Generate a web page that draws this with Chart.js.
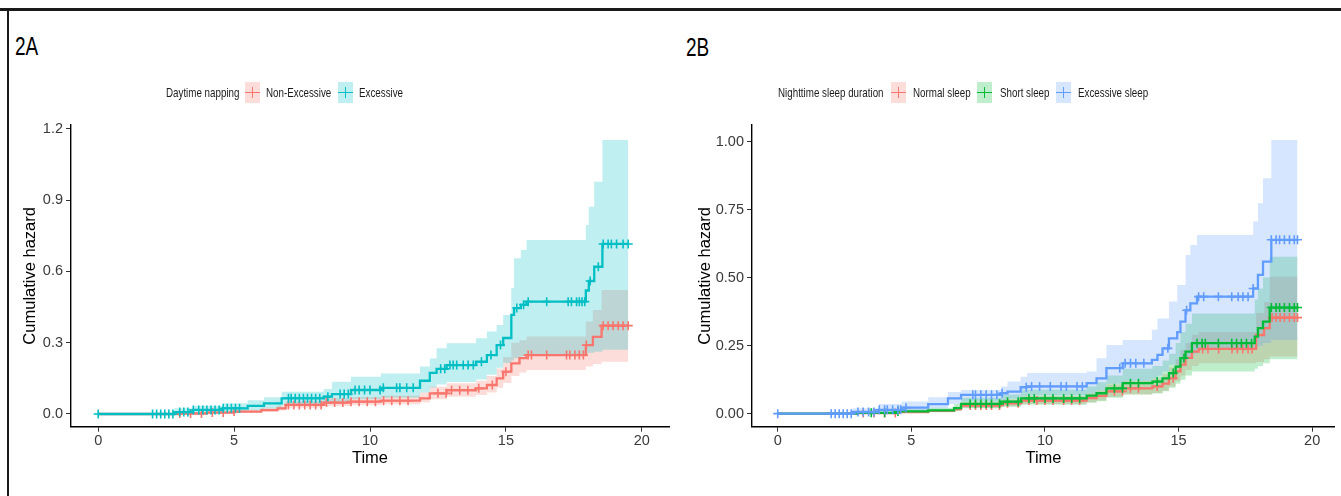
<!DOCTYPE html>
<html><head><meta charset="utf-8">
<script src="https://cdn.jsdelivr.net/npm/chart.js@4/dist/chart.umd.min.js"></script>
<style>
html,body{margin:0;padding:0;background:#fff;}
#wrap{position:relative;width:1341px;height:496px;overflow:hidden;background:#fff;}
.frameTop{position:absolute;left:0;top:8px;width:1341px;height:3px;background:#1a1a1a;}
.frameLeft{position:absolute;left:7px;top:8px;width:2px;height:488px;background:#1a1a1a;}
.ptitle{position:absolute;font-family:"Liberation Sans",Arial,sans-serif;font-size:25px;color:#000;line-height:25px;transform:scaleX(0.76);transform-origin:0 50%;}
.leg{position:absolute;font-family:"Liberation Sans",Arial,sans-serif;font-size:13.5px;color:#1a1a1a;line-height:14px;white-space:nowrap;transform:scaleX(0.725);transform-origin:0 50%;}
.key{position:absolute;width:15px;height:21px;top:82px;}
.key .h{position:absolute;left:0;top:9.5px;width:15px;height:1.6px;}
.key .v{position:absolute;left:6.7px;top:5px;width:1.6px;height:11px;}
canvas{position:absolute;top:0;}
</style></head>
<body><div id="wrap">
<div class="frameTop"></div><div class="frameLeft"></div>
<div class="ptitle" style="left:15px;top:34px;">2A</div>
<div class="ptitle" style="left:686px;top:35px;">2B</div>
<canvas id="cA" width="680" height="496" style="left:0px;"></canvas>
<canvas id="cB" width="661" height="496" style="left:680px;"></canvas>
</div>
<script>
// ---------- Panel 2A : Daytime napping ----------
const legendTitleA = 'Daytime napping';
const groupsA = ['Non-Excessive', 'Excessive'];
const colorsA = ['#F8766D', '#00BFC4'];

const tA_non  = [0, 3.0, 4.0, 5.0, 6.0, 6.6, 6.9, 8.3, 9.3, 10.4, 11.84, 12.2, 12.82, 13.9, 14.3, 14.66, 14.9, 15.2, 15.5, 15.76, 17.94, 18.2, 18.52, 19.5];
const hA_non  = [0, 0.002, 0.006, 0.01, 0.016, 0.024, 0.038, 0.048, 0.052, 0.056, 0.066, 0.087, 0.1, 0.108, 0.122, 0.15, 0.178, 0.213, 0.235, 0.248, 0.29, 0.325, 0.372, 0.372];
const loA_non = [0, 0, 0.002, 0.005, 0.009, 0.015, 0.026, 0.034, 0.038, 0.041, 0.049, 0.062, 0.073, 0.08, 0.09, 0.11, 0.13, 0.16, 0.175, 0.185, 0.2, 0.21, 0.22, 0.22];
const hiA_non = [0, 0.006, 0.012, 0.018, 0.026, 0.036, 0.054, 0.066, 0.071, 0.077, 0.09, 0.115, 0.129, 0.14, 0.16, 0.192, 0.24, 0.3, 0.31, 0.326, 0.389, 0.438, 0.522, 0.522];
const cA_non  = [3.0, 3.4, 3.8, 4.2, 4.6, 5.0, 7.0, 7.2, 7.4, 7.6, 7.8, 8.0, 8.2, 8.4, 8.7, 9.0, 9.3, 9.6, 9.9, 10.2, 10.5, 10.8, 11.1, 11.4, 12.5, 12.8, 13.0, 13.3, 13.6, 14.0, 14.5, 15.0, 15.82, 15.94, 16.5, 17.23, 17.35, 17.54, 17.7, 17.85, 17.96, 18.58, 18.76, 18.94, 19.13, 19.31, 19.5];

const tA_exc  = [0, 2.8, 3.5, 4.6, 5.5, 6.1, 6.75, 8.3, 8.6, 9.3, 10.4, 11.84, 12.2, 12.45, 12.82, 13.9, 14.3, 14.66, 14.9, 15.2, 15.3, 15.55, 15.76, 17.94, 18.05, 18.25, 18.55, 19.5];
const hA_exc  = [0, 0.008, 0.017, 0.024, 0.034, 0.045, 0.066, 0.073, 0.084, 0.101, 0.11, 0.14, 0.173, 0.19, 0.206, 0.22, 0.248, 0.29, 0.32, 0.417, 0.446, 0.46, 0.473, 0.52, 0.56, 0.62, 0.716, 0.716];
const loA_exc = [0, 0.001, 0.006, 0.01, 0.016, 0.023, 0.037, 0.042, 0.05, 0.062, 0.068, 0.09, 0.112, 0.124, 0.135, 0.145, 0.165, 0.195, 0.215, 0.225, 0.235, 0.243, 0.25, 0.255, 0.258, 0.262, 0.27, 0.27];
const hiA_exc = [0, 0.024, 0.035, 0.045, 0.058, 0.07, 0.094, 0.105, 0.136, 0.157, 0.171, 0.2, 0.234, 0.277, 0.298, 0.319, 0.347, 0.375, 0.417, 0.53, 0.656, 0.69, 0.733, 0.796, 0.873, 0.978, 1.154, 1.154];
const cA_exc  = [0, 2.0, 2.15, 2.3, 2.45, 2.6, 2.75, 3.0, 3.15, 3.3, 3.5, 3.7, 3.85, 4.0, 4.15, 4.3, 4.45, 4.6, 4.75, 4.9, 5.05, 5.2, 7.0, 7.1, 7.25, 7.4, 7.55, 7.7, 7.85, 8.0, 8.15, 8.45, 8.9, 9.05, 9.2, 9.45, 9.6, 9.8, 10.0, 10.37, 10.49, 10.98, 11.1, 11.35, 11.59, 12.6, 12.75, 12.94, 13.06, 13.19, 13.43, 13.61, 13.8, 14.1, 14.45, 14.8, 15.4, 15.65, 15.82, 16.5, 17.29, 17.41, 17.6, 17.7, 17.8, 17.9, 18.1, 18.4, 18.58, 18.76, 18.88, 19.07, 19.31, 19.5];

const xTicksA = [0, 5, 10, 15, 20];
const yTicksA = [0, 0.3, 0.6, 0.9, 1.2];

// ---------- Panel 2B : Nighttime sleep duration ----------
const legendTitleB = 'Nighttime sleep duration';
const groupsB = ['Normal sleep', 'Short sleep', 'Excessive sleep'];
const colorsB = ['#F8766D', '#00BA38', '#619CFF'];

const tB_nor  = [0, 3.0, 4.5, 5.63, 6.6, 6.86, 8.35, 9.1, 11.56, 11.93, 12.3, 12.91, 14.02, 14.4, 14.64, 14.89, 15.07, 15.26, 15.5, 15.75, 17.9, 18.2, 18.41, 19.45];
const hB_nor  = [0, 0.002, 0.006, 0.01, 0.017, 0.03, 0.038, 0.048, 0.057, 0.065, 0.082, 0.093, 0.1, 0.11, 0.13, 0.155, 0.18, 0.205, 0.228, 0.238, 0.289, 0.314, 0.353, 0.353];
const loB_nor = [0, 0, 0.003, 0.006, 0.011, 0.021, 0.027, 0.035, 0.042, 0.048, 0.062, 0.07, 0.076, 0.084, 0.1, 0.12, 0.14, 0.16, 0.175, 0.185, 0.19, 0.2, 0.21, 0.21];
const hiB_nor = [0, 0.006, 0.011, 0.016, 0.026, 0.042, 0.052, 0.064, 0.075, 0.085, 0.107, 0.12, 0.13, 0.145, 0.17, 0.2, 0.235, 0.26, 0.29, 0.3, 0.37, 0.41, 0.503, 0.503];
const cB_nor  = [3.2, 3.6, 4.0, 4.4, 7.2, 7.4, 7.6, 7.8, 8.0, 8.3, 8.6, 9.0, 9.4, 9.7, 10.0, 10.3, 10.7, 11.0, 11.3, 12.6, 12.9, 13.2, 13.5, 14.2, 14.8, 15.9, 16.1, 16.5, 17.0, 17.2, 17.4, 17.6, 17.75, 18.5, 18.65, 18.8, 18.96, 19.15, 19.33, 19.45];

const tB_sho  = [0, 3.0, 4.5, 5.63, 6.6, 6.86, 8.35, 9.1, 11.56, 11.93, 12.3, 12.91, 14.02, 14.4, 14.64, 14.89, 15.07, 15.26, 15.5, 17.85, 17.97, 18.16, 18.41, 19.45];
const hB_sho  = [0, 0.003, 0.008, 0.012, 0.02, 0.036, 0.044, 0.056, 0.066, 0.075, 0.093, 0.112, 0.118, 0.13, 0.149, 0.173, 0.204, 0.228, 0.259, 0.283, 0.314, 0.338, 0.39, 0.39];
const loB_sho = [0, 0, 0.003, 0.005, 0.01, 0.02, 0.025, 0.033, 0.04, 0.046, 0.058, 0.07, 0.074, 0.082, 0.095, 0.11, 0.125, 0.14, 0.155, 0.165, 0.175, 0.185, 0.2, 0.2];
const hiB_sho = [0, 0.008, 0.016, 0.022, 0.035, 0.058, 0.07, 0.088, 0.1, 0.115, 0.14, 0.165, 0.175, 0.195, 0.22, 0.26, 0.3, 0.33, 0.368, 0.42, 0.46, 0.5, 0.577, 0.577];
const cB_sho  = [3.5, 4.0, 4.5, 7.2, 7.4, 7.6, 7.8, 8.0, 8.3, 8.6, 9.0, 9.4, 9.6, 10.0, 10.3, 10.7, 11.0, 11.3, 12.6, 12.9, 13.2, 13.5, 14.2, 14.8, 15.2, 15.69, 15.88, 16.0, 16.49, 16.99, 17.17, 17.35, 17.54, 17.73, 18.47, 18.65, 18.78, 18.96, 19.15, 19.33, 19.45];

const tB_exc  = [0, 2.8, 3.78, 4.64, 5.63, 6.37, 6.86, 8.35, 8.6, 9.09, 9.33, 11.56, 11.93, 12.3, 12.91, 14.0, 14.21, 14.4, 14.64, 14.95, 15.07, 15.26, 15.44, 15.69, 17.79, 17.97, 18.16, 18.47, 19.45];
const hB_exc  = [0, 0.006, 0.014, 0.022, 0.035, 0.056, 0.069, 0.075, 0.081, 0.097, 0.1, 0.112, 0.13, 0.167, 0.185, 0.198, 0.216, 0.24, 0.277, 0.3, 0.338, 0.38, 0.405, 0.43, 0.46, 0.51, 0.559, 0.639, 0.639];
const loB_exc = [0, 0.001, 0.005, 0.01, 0.02, 0.035, 0.045, 0.05, 0.055, 0.065, 0.068, 0.075, 0.085, 0.11, 0.12, 0.13, 0.14, 0.155, 0.18, 0.17, 0.19, 0.21, 0.22, 0.235, 0.24, 0.25, 0.26, 0.271, 0.271];
const hiB_exc = [0, 0.02, 0.035, 0.045, 0.06, 0.08, 0.087, 0.1, 0.118, 0.136, 0.149, 0.155, 0.204, 0.252, 0.271, 0.308, 0.35, 0.35, 0.412, 0.473, 0.473, 0.583, 0.62, 0.657, 0.706, 0.773, 0.865, 1.006, 1.006];
const cB_exc  = [0, 2.0, 2.15, 2.3, 2.45, 2.6, 2.75, 3.0, 3.2, 3.4, 3.6, 3.8, 4.0, 4.1, 4.3, 4.5, 4.6, 4.8, 7.3, 7.4, 7.6, 7.8, 8.0, 8.2, 8.4, 9.3, 9.5, 9.8, 10.2, 10.6, 10.8, 11.2, 11.4, 12.8, 13.0, 13.2, 13.4, 13.7, 14.6, 15.3, 15.75, 15.94, 16.49, 16.99, 17.23, 17.41, 17.6, 17.79, 18.47, 18.65, 18.78, 18.96, 19.15, 19.33, 19.45];

const xTicksB = [0, 5, 10, 15, 20];
const yTicksB = [0, 0.25, 0.5, 0.75, 1.0];

// ---------- helpers ----------
function stepAt(ts, vs, t) { let v = vs[0]; for (let i = 0; i < ts.length; i++) { if (ts[i] <= t + 1e-9) v = vs[i]; else break; } return v; }
function pts(ts, vs) { return ts.map((t, i) => ({x: t, y: vs[i]})); }
function rgba(hex, a) { const n = parseInt(hex.slice(1), 16); return `rgba(${(n>>16)&255},${(n>>8)&255},${n&255},${a})`; }

function buildDatasets(groups) {
  const ds = [];
  groups.forEach((g, gi) => {
    const loIdx = ds.length;
    ds.push({label: g.name + ' lower', data: pts(g.t, g.lo), stepped: 'before', borderWidth: 0, borderColor: 'rgba(0,0,0,0)', pointRadius: 0, fill: false, order: 30 - gi});
    ds.push({label: g.name + ' upper', data: pts(g.t, g.hi), stepped: 'before', borderWidth: 0, borderColor: 'rgba(0,0,0,0)', pointRadius: 0, fill: {target: loIdx}, backgroundColor: rgba(g.color, 0.25), order: 30 - gi});
  });
  groups.forEach((g, gi) => {
    ds.push({label: g.name, data: pts(g.t, g.v), stepped: 'before', borderColor: g.color, borderWidth: 2.3, pointRadius: 0, fill: false, order: 19 - 2 * gi});
    ds.push({label: g.name + ' censored', data: g.c.map(t => ({x: t, y: stepAt(g.t, g.v, t)})), showLine: false, pointStyle: 'cross', pointRadius: 4.5, pointBorderWidth: 1.6, borderColor: g.color, pointBorderColor: g.color, fill: false, order: 18 - 2 * gi});
  });
  return ds;
}

const FONT = "'Liberation Sans', Arial, sans-serif";
function makeChart(id, groups, xr, yr, xTicks, yTicks, yDec, yWidth, yTitlePad, padRight) {
  const xAxisH = 60;
  return new Chart(document.getElementById(id), {
    type: 'line',
    data: {datasets: buildDatasets(groups)},
    options: {
      responsive: false, animation: false, events: [],
      layout: {padding: {left: 0, right: padRight, top: 125, bottom: 496 - 426.7 - xAxisH}},
      plugins: {legend: {display: false}, tooltip: {enabled: false}, title: {display: false}},
      scales: {
        x: {type: 'linear', min: xr[0], max: xr[1],
          afterBuildTicks: s => { s.ticks = xTicks.map(v => ({value: v})); },
          afterFit: s => { s.height = xAxisH; },
          grid: {drawOnChartArea: false, drawTicks: true, tickLength: 5, color: '#333', lineWidth: 1},
          border: {display: true, color: '#000', width: 1.4},
          ticks: {font: {family: FONT, size: 14.5}, color: '#3a3a3a', padding: 1, maxRotation: 0, autoSkip: false, callback: v => String(v)},
          title: {display: true, text: 'Time', font: {family: FONT, size: 16.5}, color: '#000', padding: {top: 0, bottom: 18.8}}
        },
        y: {type: 'linear', min: yr[0], max: yr[1],
          afterBuildTicks: s => { s.ticks = yTicks.map(v => ({value: v})); },
          afterFit: s => { s.width = yWidth; },
          grid: {drawOnChartArea: false, drawTicks: true, tickLength: 5, color: '#333', lineWidth: 1},
          border: {display: true, color: '#000', width: 1.4},
          ticks: {font: {family: FONT, size: 14.5}, color: '#3a3a3a', padding: 3, autoSkip: false, callback: v => Number(v).toFixed(yDec)},
          title: {display: true, text: 'Cumulative hazard', font: {family: FONT, size: 16.5}, color: '#000', padding: {top: yTitlePad, bottom: 0}}
        }
      }
    }
  });
}

makeChart('cA', [
  {name: groupsA[0], color: colorsA[0], t: tA_non, v: hA_non, lo: loA_non, hi: hiA_non, c: cA_non},
  {name: groupsA[1], color: colorsA[1], t: tA_exc, v: hA_exc, lo: loA_exc, hi: hiA_exc, c: cA_exc}
], [-1, 21], [-0.0535, 1.2168], xTicksA, yTicksA, 1, 71, 21, 11);

makeChart('cB', [
  {name: groupsB[0], color: colorsB[0], t: tB_nor, v: hB_nor, lo: loB_nor, hi: hiB_nor, c: cB_nor},
  {name: groupsB[1], color: colorsB[1], t: tB_sho, v: hB_sho, lo: loB_sho, hi: hiB_sho, c: cB_sho},
  {name: groupsB[2], color: colorsB[2], t: tB_exc, v: hB_exc, lo: loB_exc, hi: hiB_exc, c: cB_exc}
], [-0.963, 20.85], [-0.048, 1.061], xTicksB, yTicksB, 2, 72, 16, 0);

// ---------- legends (HTML text) ----------
function legend(title, labels, colors, titleX, keyXs, textXs) {
  const wrap = document.getElementById('wrap');
  const t = document.createElement('div'); t.className = 'leg'; t.textContent = title;
  t.style.left = titleX + 'px'; t.style.top = '86px'; wrap.appendChild(t);
  labels.forEach((lab, i) => {
    const k = document.createElement('div'); k.className = 'key';
    k.style.left = keyXs[i] + 'px'; k.style.background = rgba(colors[i], 0.25);
    const h = document.createElement('div'); h.className = 'h'; h.style.background = colors[i];
    const v = document.createElement('div'); v.className = 'v'; v.style.background = colors[i];
    k.appendChild(h); k.appendChild(v); wrap.appendChild(k);
    const d = document.createElement('div'); d.className = 'leg'; d.textContent = lab;
    d.style.left = textXs[i] + 'px'; d.style.top = '86px'; wrap.appendChild(d);
  });
}
legend(legendTitleA, groupsA, colorsA, 166, [245, 338], [266, 359]);
legend(legendTitleB, groupsB, colorsB, 778, [891, 977, 1056], [913, 1000, 1078]);
</script>
</body></html>
